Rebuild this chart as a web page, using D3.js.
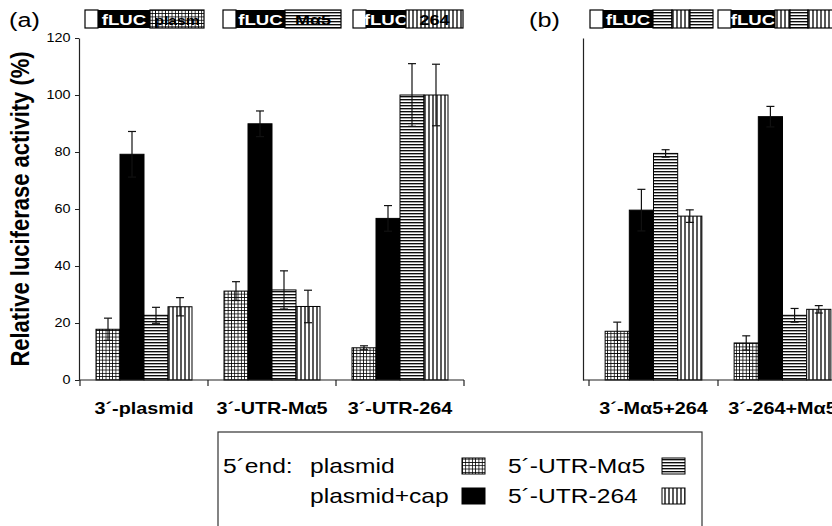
<!DOCTYPE html>
<html lang="en">
  <head>
    <meta charset="UTF-8" />
    <title>Relative luciferase activity</title>
    <script src="https://d3js.org/d3.v7.min.js"></script>
    <style>
      body { margin: 0; background: #fff; }
      svg { display: block; font-family: "Liberation Sans", Arial, sans-serif; }
    </style>
  </head>
  <body>
    <svg width="832" height="526"></svg>
    <script>
      // the original figure is stretched sideways, so text gets squeezed out the same way
      const SX = 1.2;

      const series = ["plasmid", "plasmid+cap", "5´-UTR-Mα5", "5´-UTR-264"];
      const patterns = ["grid", "solid", "hlines", "vlines"];

      const categoriesA = ["3´-plasmid", "3´-UTR-Mα5", "3´-UTR-264"];
      const categoriesB = ["3´-Mα5+264", "3´-264+Mα5"];

      // one array per 5' end, values per 3' end
      const plasmidA = [17.8, 31.2, 11.3];
      const capA = [79.2, 89.9, 56.7];
      const ma5A = [22.7, 31.6, 100];
      const u264A = [25.7, 25.8, 100];
      const plasmidErrA = [3.9, 3.3, 0.7];
      const capErrA = [8.0, 4.5, 4.5];
      const ma5ErrA = [2.8, 6.7, 11];
      const u264ErrA = [3.2, 5.7, 10.8];

      const plasmidB = [17.1, 13.0];
      const capB = [59.6, 92.4];
      const ma5B = [79.5, 22.7];
      const u264B = [57.5, 24.8];
      const plasmidErrB = [3.2, 2.5];
      const capErrB = [7.3, 3.6];
      const ma5ErrB = [1.3, 2.4];
      const u264ErrB = [2.2, 1.3];

      const yTicks = [0, 20, 40, 60, 80, 100, 120];

      const svg = d3.select("svg");
      const defs = svg.append("defs");

      // fill patterns
      const grid = defs.append("pattern").attr("id", "grid")
        .attr("patternUnits", "userSpaceOnUse").attr("width", 3.3).attr("height", 3.3);
      grid.append("rect").attr("width", 3.3).attr("height", 3.3).attr("fill", "#fff");
      grid.append("path").attr("d", "M0,0.4H3.3M0.4,0V3.3").attr("stroke", "#000").attr("stroke-width", 0.8);

      const hl = defs.append("pattern").attr("id", "hlines")
        .attr("patternUnits", "userSpaceOnUse").attr("width", 4).attr("height", 3);
      hl.append("rect").attr("width", 4).attr("height", 3).attr("fill", "#fff");
      hl.append("path").attr("d", "M0,0.7H4").attr("stroke", "#000").attr("stroke-width", 1.3);

      const vl = defs.append("pattern").attr("id", "vlines")
        .attr("patternUnits", "userSpaceOnUse").attr("width", 4).attr("height", 4);
      vl.append("rect").attr("width", 4).attr("height", 4).attr("fill", "#fff");
      vl.append("path").attr("d", "M1,0V4").attr("stroke", "#000").attr("stroke-width", 1.3);

      const fillOf = (p) => (p === "solid" ? "#000" : `url(#${p})`);

      function sText(parent, x, y, str, size, weight, anchor) {
        return parent.append("text")
          .attr("transform", `translate(${x},${y}) scale(${SX},1)`)
          .attr("font-size", size)
          .attr("font-weight", weight || "normal")
          .attr("text-anchor", anchor || "start")
          .text(str);
      }

      const y = d3.scaleLinear().domain([0, 120]).range([380, 38]);

      function panel(cats, vals, errs, range, axisX, axisEnd, withLabels) {
        const x = d3.scaleBand().domain(cats).range(range);
        const xs = d3.scaleBand().domain(series).range([0, x.bandwidth()]).paddingOuter(0.667);

        const rows = [];
        cats.forEach((c, i) => {
          series.forEach((s, j) => {
            rows.push({ cat: c, s, pat: patterns[j], v: vals[j][i], e: errs[j][i] });
          });
        });

        const g = svg.append("g");
        g.selectAll("rect.bar").data(rows).join("rect")
          .attr("class", "bar")
          .attr("x", (d) => x(d.cat) + xs(d.s))
          .attr("y", (d) => y(d.v))
          .attr("width", xs.bandwidth())
          .attr("height", (d) => y(0) - y(d.v))
          .attr("fill", (d) => fillOf(d.pat))
          .attr("stroke", "#000")
          .attr("stroke-width", 1);

        const eb = g.selectAll("g.err").data(rows).join("g").attr("class", "err")
          .attr("transform", (d) => `translate(${x(d.cat) + xs(d.s) + xs.bandwidth() / 2},0)`)
          .attr("stroke", "#111").attr("stroke-width", 1.2);
        eb.append("line").attr("y1", (d) => y(d.v - d.e)).attr("y2", (d) => y(d.v + d.e));
        eb.append("line").attr("x1", -4).attr("x2", 4).attr("y1", (d) => y(d.v + d.e)).attr("y2", (d) => y(d.v + d.e));
        eb.append("line").attr("x1", -4).attr("x2", 4).attr("y1", (d) => y(d.v - d.e)).attr("y2", (d) => y(d.v - d.e));

        // y axis
        const ya = svg.append("g").attr("transform", `translate(${axisX},0)`)
          .call(d3.axisLeft(y).tickValues(yTicks).tickSize(withLabels ? 4 : 0).tickSizeOuter(0)
            .tickFormat(withLabels ? d3.format("d") : () => ""));
        ya.select(".domain").attr("stroke", "#222").attr("stroke-width", 1.2);
        ya.selectAll(".tick line").attr("stroke", "#222");
        ya.selectAll(".tick text")
          .attr("font-family", "'Liberation Sans', Arial, sans-serif")
          .attr("font-size", 12).attr("fill", "#000")
          .attr("x", -7).attr("transform", `scale(${SX},1)`);

        // x axis with ticks between categories
        const xa = svg.append("g").attr("stroke", "#222").attr("stroke-width", 1.2);
        xa.append("line").attr("x1", axisX).attr("x2", axisEnd).attr("y1", y(0)).attr("y2", y(0));
        const edges = cats.map((c) => x(c)).concat([range[1]]);
        xa.selectAll("line.t").data(edges).join("line").attr("class", "t")
          .attr("x1", (d) => d).attr("x2", (d) => d)
          .attr("y1", y(0)).attr("y2", y(0) + 6);

        cats.forEach((c) => sText(svg, x(c) + x.bandwidth() / 2, 414, c, 16.5, "bold", "middle"));
      }

      panel(categoriesA, [plasmidA, capA, ma5A, u264A], [plasmidErrA, capErrA, ma5ErrA, u264ErrA],
        [80, 464], 79, 464, true);
      panel(categoriesB, [plasmidB, capB, ma5B, u264B], [plasmidErrB, capErrB, ma5ErrB, u264ErrB],
        [589, 847], 583, 840, false);

      // y title
      svg.append("text")
        .attr("transform", `translate(29,209) scale(${SX},1) rotate(-90)`)
        .attr("font-size", 22).attr("font-weight", "bold").attr("text-anchor", "middle")
        .text("Relative luciferase activity (%)");

      sText(svg, 9, 27, "(a)", 21);
      sText(svg, 529, 27, "(b)", 21);

      // construct sketches on top
      const constructs = [
        { x: 85, black: 52, parts: [{ p: "grid", w: 54, t: "plasm" }] },
        { x: 223, black: 49, parts: [{ p: "hlines", w: 56, t: "Mα5" }] },
        { x: 353, black: 40, parts: [{ p: "vlines", w: 57, t: "264" }] },
        { x: 590, black: 50, parts: [{ p: "hlines", w: 19 }, { p: "vlines", w: 18 }, { p: "hlines", w: 23 }] },
        { x: 718, black: 44, parts: [{ p: "vlines", w: 15 }, { p: "hlines", w: 18 }, { p: "vlines", w: 40 }] }
      ];
      const cg = svg.append("g");
      constructs.forEach((c) => {
        const top = 10, h = 18;
        cg.append("rect").attr("x", c.x).attr("y", top).attr("width", 13).attr("height", h)
          .attr("fill", "#fff").attr("stroke", "#000").attr("stroke-width", 1.2);
        cg.append("rect").attr("x", c.x + 13).attr("y", top).attr("width", c.black).attr("height", h)
          .attr("fill", "#000");
        sText(cg, c.x + 13 + c.black / 2, top + 15, "fLUC", 15.5, "bold", "middle").attr("fill", "#fff");
        let px = c.x + 13 + c.black;
        c.parts.forEach((p) => {
          cg.append("rect").attr("x", px).attr("y", top).attr("width", p.w).attr("height", h)
            .attr("fill", `url(#${p.p})`).attr("stroke", "#000").attr("stroke-width", 1.2);
          if (p.t) sText(cg, px + p.w / 2, top + 15, p.t, p.t.length > 3 ? 13 : 15, "bold", "middle");
          px += p.w;
        });
      });

      // legend
      const lg = svg.append("g");
      lg.append("rect").attr("x", 218).attr("y", 432).attr("width", 484).attr("height", 120)
        .attr("fill", "#fff").attr("stroke", "#333").attr("stroke-width", 1.2);
      sText(lg, 223, 473, "5´end:", 20.5);
      const legendPos = [
        { tx: 310, ty: 473, sx: 462 },
        { tx: 310, ty: 503, sx: 462 },
        { tx: 508, ty: 473, sx: 662 },
        { tx: 508, ty: 503, sx: 662 }
      ];
      series.forEach((s, i) => {
        const p = legendPos[i];
        sText(lg, p.tx, p.ty, s, 20.5);
        lg.append("rect").attr("x", p.sx).attr("y", p.ty - 15).attr("width", 23).attr("height", 16)
          .attr("fill", fillOf(patterns[i])).attr("stroke", "#000").attr("stroke-width", 1);
      });
    </script>
  </body>
</html>
